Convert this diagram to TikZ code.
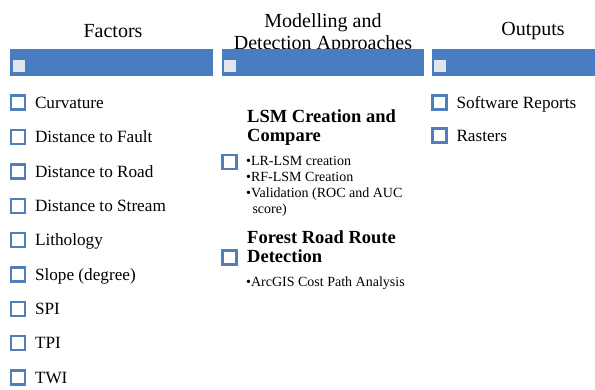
\documentclass[tikz,border=0pt]{standalone}
\usepackage{fontspec}
\setmainfont{Liberation Serif}
\usetikzlibrary{positioning}
\definecolor{barblue}{RGB}{72,126,193}
\definecolor{boxblue}{RGB}{80,126,186}
\definecolor{tickgrey}{RGB}{224,229,238}

\begin{document}
\begin{tikzpicture}[%
            x=1pt, y=-1pt,
            node distance=8.5pt,
            bar/.style={fill=barblue},
            barbox/.style={shape=rectangle, fill=tickgrey, minimum size=12pt, inner sep=0pt},
            tickbox/.style={shape=rectangle, draw=boxblue, line width=2.6pt, minimum size=14pt, inner sep=0pt},
            heading/.style={align=center, font=\fontsize{20}{22}\selectfont},
            item/.style={inner sep=0pt, text height=11.5pt, text depth=0pt, font=\fontsize{17.2}{19}\selectfont},
            stepname/.style={anchor=west, align=left, inner sep=0pt, font=\fontsize{18.5}{19}\selectfont\bfseries},
            bullets/.style={anchor=north west, align=left, inner sep=0pt, font=\fontsize{14}{16}\selectfont}
        ]
        \useasboundingbox (0,0) rectangle (595,390);

        % headings
        \node [heading] (factorshead) at (113,31) {Factors};
        \node [heading] (modelhead) at (323,34) {Modelling and\\Detection Approaches};
        \node [heading] (outhead) at (533,31) {Outputs};

        % blue bars
        \fill [bar] (10,49) rectangle (213,76);
        \fill [bar] (222,49) rectangle (424,76);
        \fill [bar] (432,49) rectangle (595,76);
        \path (19,66)  node [barbox] (factorsbar) {}
              (230,66) node [barbox] (modelbar) {}
              (440,66) node [barbox] (outbar) {};

        % factors
        \node [tickbox] (cb1) at (18,102.5) {};
        \node [tickbox] (cb2) at (18,137) {};
        \node [tickbox] (cb3) at (18,171.5) {};
        \node [tickbox] (cb4) at (18,206) {};
        \node [tickbox] (cb5) at (18,240) {};
        \node [tickbox] (cb6) at (18,274.5) {};
        \node [tickbox] (cb7) at (18,309) {};
        \node [tickbox] (cb8) at (18,343) {};
        \node [tickbox] (cb9) at (18,377.5) {};
        \node [item, right=of cb1] (f1) {Curvature};
        \node [item, right=of cb2] (f2) {Distance to Fault};
        \node [item, right=of cb3] (f3) {Distance to Road};
        \node [item, right=of cb4] (f4) {Distance to Stream};
        \node [item, right=of cb5] (f5) {Lithology};
        \node [item, right=of cb6] (f6) {Slope (degree)};
        \node [item, right=of cb7] (f7) {SPI};
        \node [item, right=of cb8] (f8) {TPI};
        \node [item, right=of cb9] (f9) {TWI};

        % approaches
        \node [stepname] (lsmhead) at (247,128) {LSM Creation and\\Compare};
        \node [tickbox] (lsmbox) at (229.5,162) {};
        \node [bullets] (lsmlist) at (246,156)
            {•LR-LSM creation\\•RF-LSM Creation\\•Validation (ROC and AUC\\\hspace*{0.45em}score)};
        \node [stepname] (roadhead) at (247,246.5) {Forest Road Route\\Detection};
        \node [tickbox] (roadbox) at (229.5,257.5) {};
        \node [bullets] (roadlist) at (246,276.5) {•ArcGIS Cost Path Analysis};

        % outputs
        \node [tickbox] (ob1) at (439.5,102.5) {};
        \node [tickbox] (ob2) at (439.5,135.5) {};
        \node [item, right=of ob1] (o1) {Software Reports};
        \node [item, right=of ob2] (o2) {Rasters};
    \end{tikzpicture}
\end{document}
